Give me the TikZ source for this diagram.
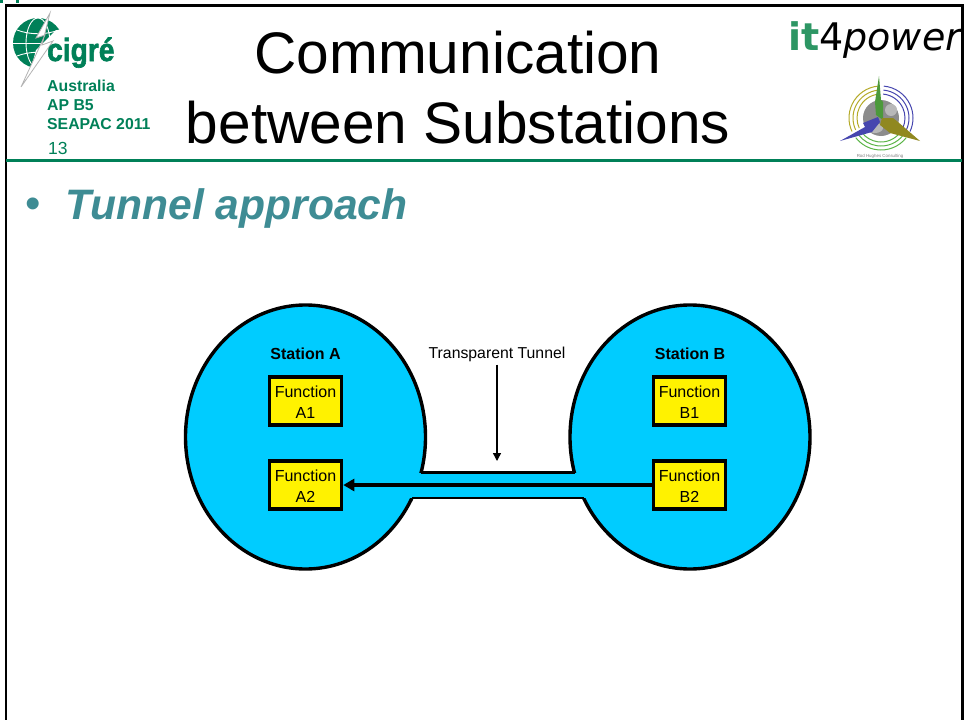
\documentclass[tikz,border=0pt]{standalone}
\usepackage{fontspec}
\setmainfont{Liberation Sans}
\newfontfamily\logofont{DejaVu Sans}
\newfontfamily\cigrefont[BoldFeatures={FakeBold=2}]{Liberation Sans}
\usetikzlibrary{arrows,arrows.meta,positioning,shapes.geometric}
\definecolor{cigregreen}{RGB}{0,128,88}
\definecolor{headteal}{RGB}{62,140,148}
\definecolor{stationblue}{RGB}{0,204,255}
\definecolor{itgreen}{RGB}{45,150,100}
\definecolor{ringyellow}{RGB}{180,170,40}
\definecolor{ringblue}{RGB}{70,70,175}
\definecolor{ringgreen}{RGB}{90,180,70}
\tikzset{
station/.style={ellipse, draw, line width=3.4pt, fill=stationblue, minimum width=240pt, minimum height=264pt, inner sep=0},
funcbox/.style={draw, line width=3.6pt, fill=yellow, minimum width=72pt, minimum height=48pt, inner sep=0, align=center, font=\fontsize{16}{21}\selectfont},
functext/.style={font=\fontsize{16}{21}\selectfont, align=center, inner sep=0},
stationlabel/.style={font=\fontsize{16}{18}\selectfont\bfseries},
sidelabel/.style={anchor=west, text=cigregreen, font=\fontsize{15.8}{18}\selectfont\bfseries, inner sep=0},
}
\begin{document}
\begin{tikzpicture}[x=1pt,y=-1pt]
\useasboundingbox (0,0) rectangle (964,720);
% frame
\fill[cigregreen] (0,0) rectangle (3,3);
\fill[cigregreen] (16,0) rectangle (19,3);
\draw[line width=2.6pt] (6,720) -- (6,5.5) -- (962.5,5.5) -- (962.5,720);
\draw[cigregreen, line width=2.6pt] (6,160.5) -- (962,160.5);
% cigre logo
\fill[cigregreen] (38,43) circle (25);
\draw[white, line width=0.9pt] (13,43) -- (63,43);
\draw[white, line width=0.9pt] (38,43) ellipse (12 and 25);
\draw[white, line width=0.9pt] (17,30) .. controls (30,35) and (46,35) .. (59,30);
\draw[white, line width=0.9pt] (17,56) .. controls (30,51) and (46,51) .. (59,56);
\fill[white] (36,50) -- (56,30) -- (66,30) -- (66,72) -- (30,72) -- cycle;
\draw[black!30, line width=0.8pt, fill=white] (50,13) -- (36,38) -- (45,35) -- (21,87) -- (53,41) -- (42,45) -- cycle;
\node (cigrelogo) [anchor=base west, text=cigregreen, inner sep=0, xscale=0.88, font=\fontsize{32}{32}\cigrefont\bfseries] at (47,61) {cigré};
\node (australia) [sidelabel] at (47,86) {Australia};
\node (apbfive) [sidelabel] at (47,105) {AP B5};
\node (seapac) [sidelabel] at (47,124) {SEAPAC 2011};
\node (pagenum) [anchor=west, text=cigregreen, inner sep=0, font=\fontsize{17.5}{18}\selectfont] at (48,148) {13};
% title
\node (titleone) [font=\fontsize{58.6}{60}\selectfont] at (458,53) {Communication};
\node (titletwo) [font=\fontsize{58.6}{60}\selectfont] at (458,123) {between Substations};
% it4power logo
\node (itlogo) [anchor=base west, inner sep=0, font=\fontsize{38}{38}\logofont] at (788,50) {\textcolor{itgreen}{\bfseries it}4\textit{power}};
% turbine logo
\begin{scope}[shift={(881,118)},y=1pt]
\fill[black!45] (0,0) circle (18);
\fill[black!28] (-6,-10) ellipse (8 and 5);
\fill[black!28] (10,8) ellipse (6 and 6);
\foreach \r in {24,28,32}{
\draw[ringyellow, line width=1pt] (95:\r) arc[start angle=95,end angle=205,radius=\r];
\draw[ringblue, line width=1pt] (85:\r) arc[start angle=85,end angle=-25,radius=\r];
\draw[ringgreen, line width=1pt] (-38:\r) arc[start angle=-38,end angle=-142,radius=\r];
}
\fill[ringgreen!85!black] (-2,42) -- (-6,16) -- (-5,3) -- (2,-2) -- (2,16) -- (0,18) -- cycle;
\fill[ringblue] (-41,-23) -- (-16,-9) -- (-18,-5) -- (-3,1) -- (-1,-4) -- (-9,-14) -- cycle;
\fill[ringyellow!80!black] (1,0) -- (-1,-7) -- (9,-15) -- (39,-23) -- (17,-4) -- (12,0) -- cycle;
\end{scope}
\node (rodlogo) [text=black!50, font=\fontsize{4.4}{6}\selectfont, inner sep=0] at (880,156) {Rod Hughes Consulting};
% heading
\node (bullet) [text=headteal, font=\fontsize{44}{44}\selectfont, inner sep=0] at (33.5,208) {•};
\node (heading) [anchor=west, text=headteal, inner sep=0, font=\fontsize{42.6}{44}\selectfont\bfseries\itshape] at (65,208) {Tunnel approach};
% stations
\node (stationA) [station] at (305.5,437) {};
\node (stationB) [station] at (690,437) {};
\fill[stationblue] (405,473) rectangle (590,497.5);
\coordinate (tunnelTL) at (421,472);
\coordinate (tunnelTR) at (574.5,472);
\coordinate (tunnelBL) at (412,498);
\coordinate (tunnelBR) at (584,498);
\draw[line width=3pt] (tunnelTL) -- (tunnelTR);
\draw[line width=2pt] (tunnelBL) -- (tunnelBR);
\node (labelA) [stationlabel] at (305.5,354) {Station A};
\node (labelB) [stationlabel] at (690,354) {Station B};
\node (funcA1) [funcbox] at (305.5,401) {};
\node (funcA2) [funcbox] at (305.5,485) {};
\node (funcB1) [funcbox] at (689.5,401) {};
\node (funcB2) [funcbox] at (689.5,485) {};
\node (textA1) [functext] at (305.5,402) {Function\\A1};
\node (textA2) [functext] at (305.5,486) {Function\\A2};
\node (textB1) [functext] at (689.5,402) {Function\\B1};
\node (textB2) [functext] at (689.5,486) {Function\\B2};
\node (tunnel) [font=\fontsize{15.8}{18}\selectfont, inner sep=3pt] at (497,354) {Transparent Tunnel};
\coordinate (tunnelend) at (497,461);
\draw[-{Triangle[length=8pt,width=8pt]}, line width=1.4pt] (tunnel) -- (tunnelend);
\draw[-{Triangle[length=11pt,width=12pt]}, line width=3.6pt] (funcB2) -- (funcA2);
\end{tikzpicture}
\end{document}
